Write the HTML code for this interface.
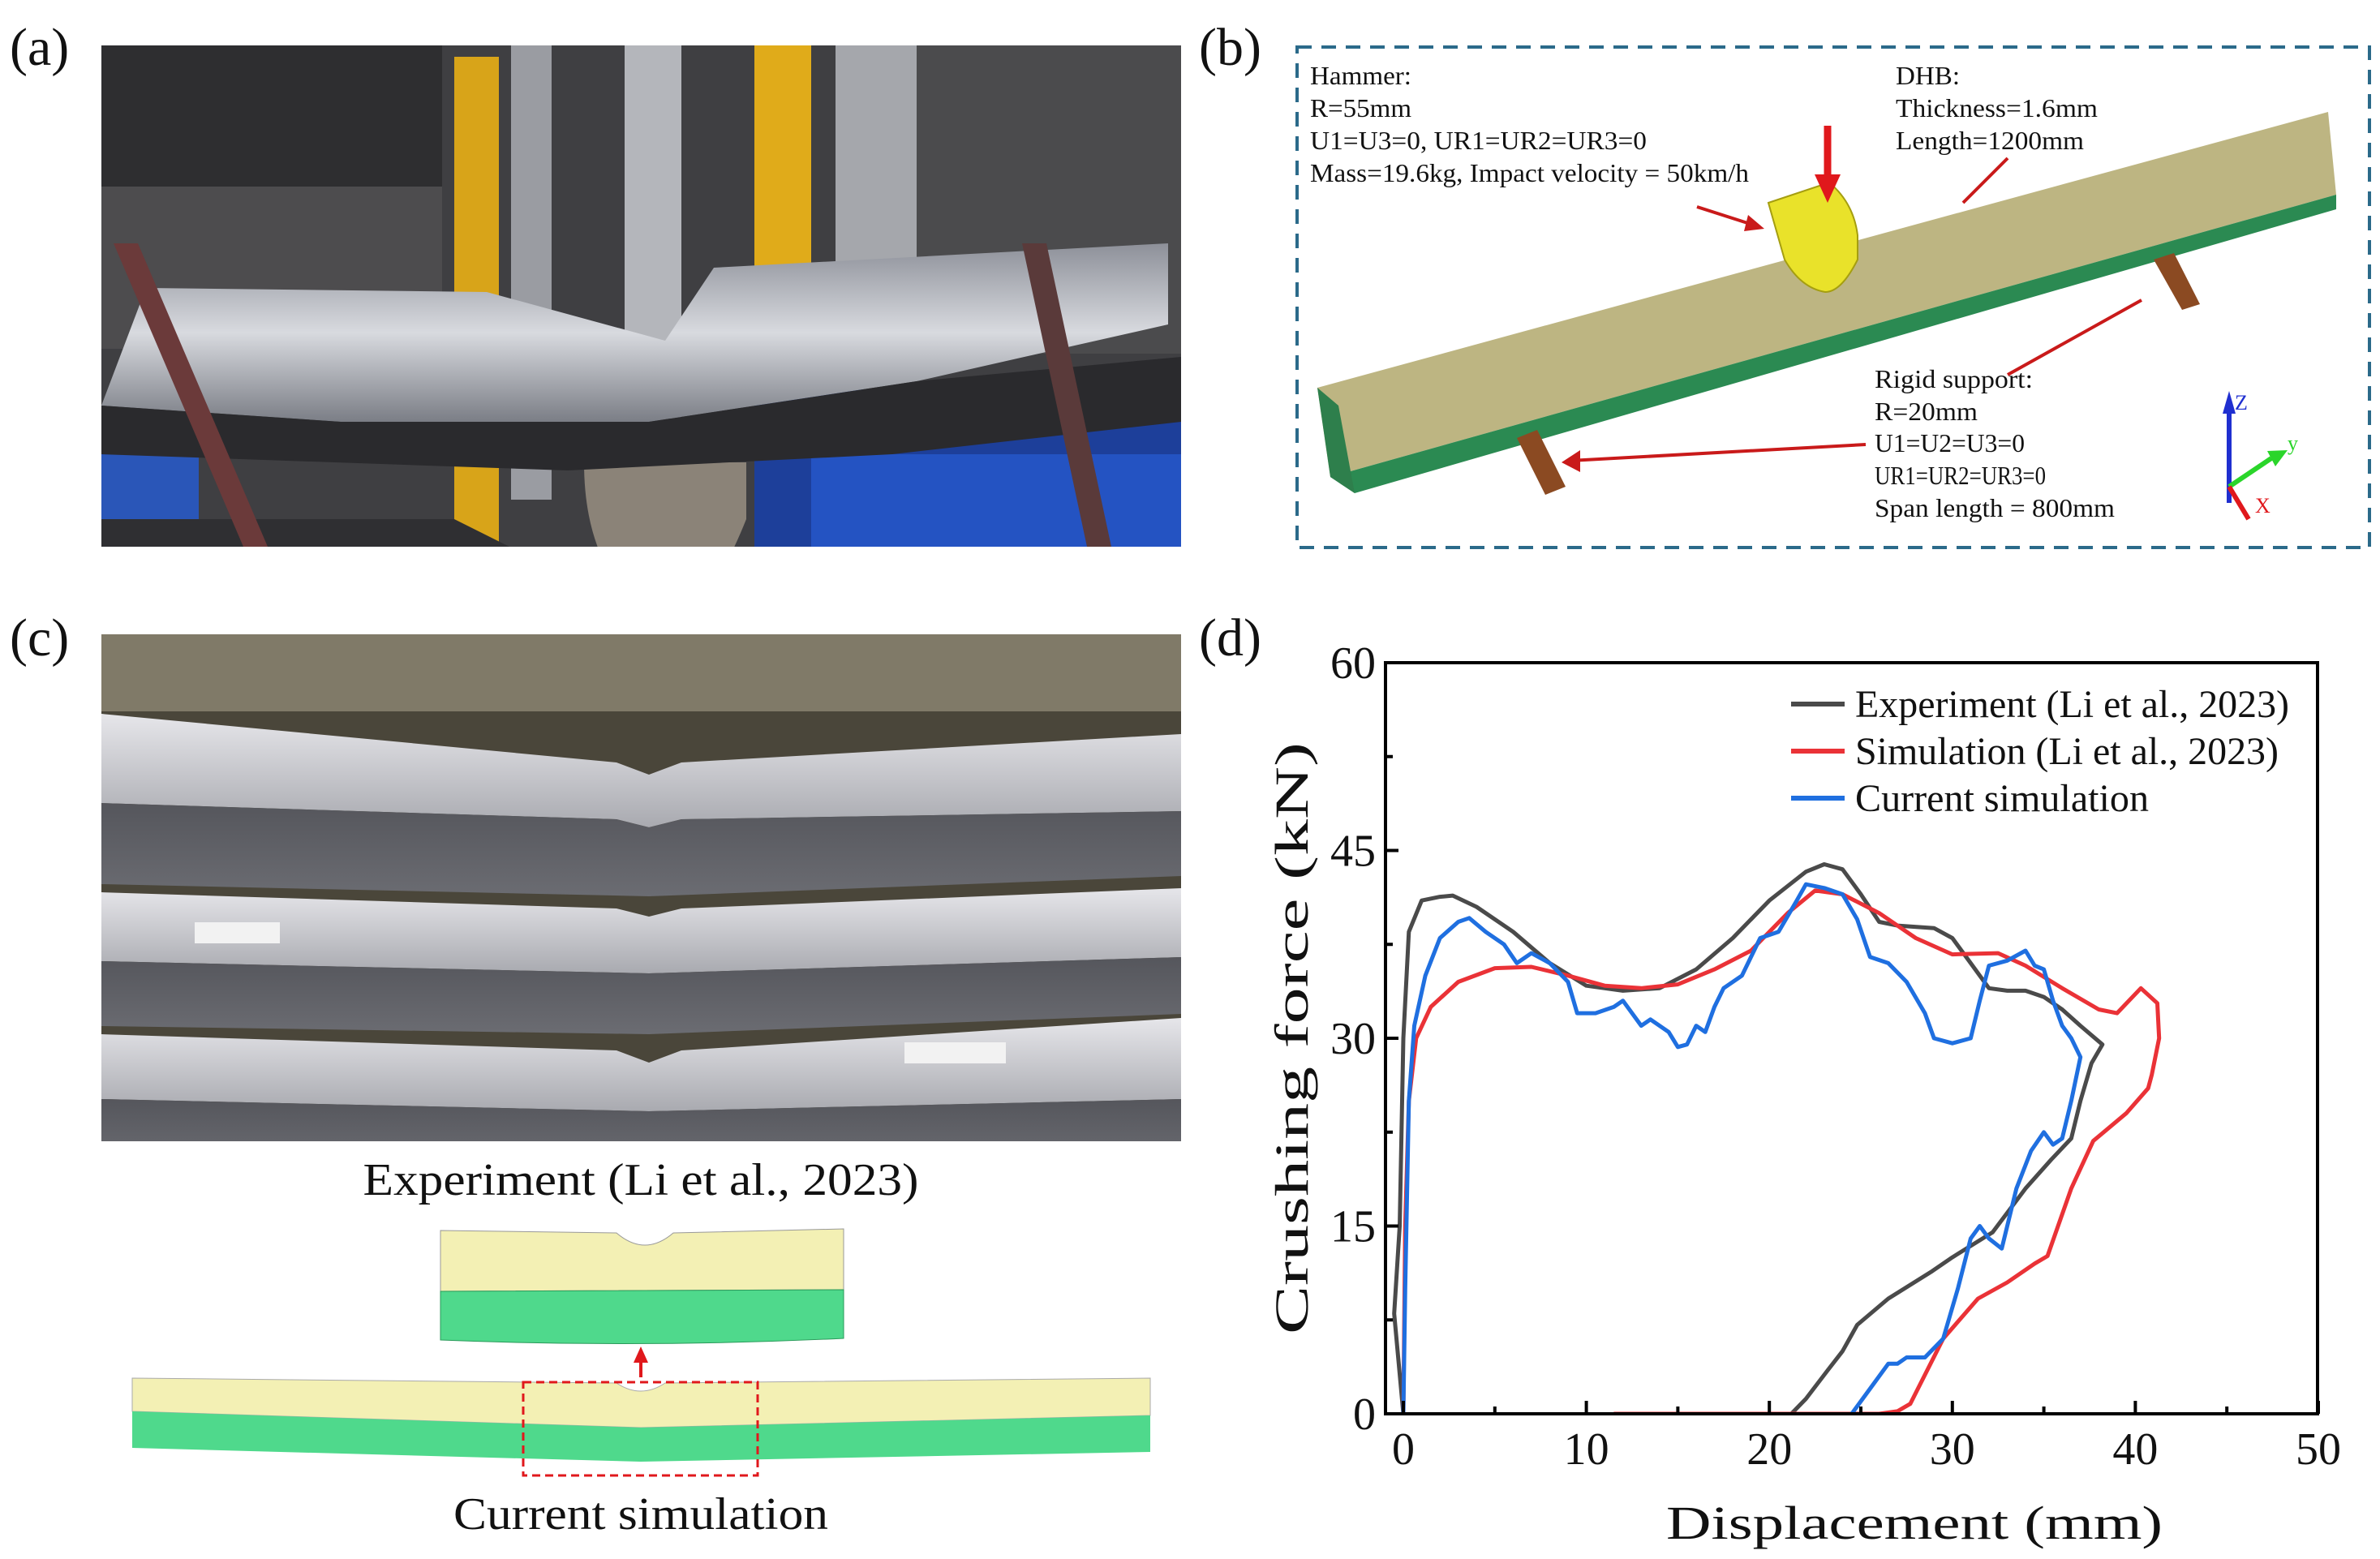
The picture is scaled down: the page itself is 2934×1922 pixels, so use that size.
<!DOCTYPE html>
<html><head><meta charset="utf-8">
<style>
html,body{margin:0;padding:0;background:#fff;}
svg{display:block;}
text{font-family:"Liberation Serif","Times New Roman",Times,serif;fill:#111;}
</style></head>
<body>
<svg id="fig" width="2934" height="1922" viewBox="0 0 2934 1922" xmlns="http://www.w3.org/2000/svg" font-family="Liberation Serif, Times New Roman, serif">
<defs>
<linearGradient id="steel" x1="0" y1="0" x2="0" y2="1"><stop offset="0" stop-color="#8d9099"/><stop offset="0.5" stop-color="#d8dadf"/><stop offset="1" stop-color="#7b7e86"/></linearGradient>
<linearGradient id="silver" x1="0" y1="0" x2="0" y2="1"><stop offset="0" stop-color="#e6e6ea"/><stop offset="1" stop-color="#a9aab0"/></linearGradient>
<linearGradient id="gray" x1="0" y1="0" x2="0" y2="1"><stop offset="0" stop-color="#55565c"/><stop offset="1" stop-color="#6b6c72"/></linearGradient>
<clipPath id="clipA"><rect x="125" y="56" width="1331" height="618"/></clipPath>
<clipPath id="clipC"><rect x="125" y="782" width="1331" height="625"/></clipPath>
<clipPath id="plotClip"><rect x="1708" y="817" width="1149" height="926"/></clipPath>
</defs>

<!-- Panel (a) -->
<text x="12" y="80" font-size="66">(a)</text>
<g clip-path="url(#clipA)">
<rect x="125" y="56" width="1331" height="618" fill="#3f3f42"/>
<rect x="125" y="56" width="420" height="300" fill="#2e2e30"/>
<rect x="125" y="230" width="420" height="200" fill="#4d4c4e"/>
<rect x="1050" y="56" width="406" height="380" fill="#4b4b4d"/>
<rect x="560" y="70" width="55" height="600" fill="#d8a419"/>
<rect x="930" y="56" width="70" height="600" fill="#e0ab1a"/>
<rect x="630" y="56" width="50" height="560" fill="#9a9ca2"/>
<rect x="770" y="56" width="70" height="460" fill="#b4b6bb"/>
<rect x="1030" y="56" width="100" height="280" fill="#a5a7ac"/>
<path d="M720 570 L920 570 L920 640 Q860 790 800 760 Q720 700 720 570Z" fill="#8b8378"/>
<rect x="930" y="480" width="526" height="194" fill="#1d3f9a"/>
<rect x="1000" y="560" width="456" height="114" fill="#2453c2"/>
<rect x="125" y="560" width="120" height="114" fill="#2a56b8"/>
<path d="M125 640 L560 640 L820 770 L1240 720 L1456 690 L1456 900 L125 900Z" fill="#2f2f32"/>
<path d="M180 355 L600 360 L820 420 L880 330 L1440 300 L1440 400 L1130 470 L800 520 L420 520 L125 500Z" fill="url(#steel)"/>
<path d="M125 500 L420 520 L800 520 L1130 470 L1456 440 L1456 520 L1100 560 L700 580 L125 560Z" fill="#2a2a2d"/>
<path d="M140 300 L300 674 L330 674 L170 300Z" fill="#6b3a3a"/>
<path d="M1260 300 L1340 674 L1370 674 L1290 300Z" fill="#5a3a3a"/>
</g>

<!-- Panel (b) -->
<text x="1478" y="80" font-size="66">(b)</text>
<rect x="1599" y="58" width="1322" height="617" fill="none" stroke="#2b6a8a" stroke-width="4" stroke-dasharray="18,12"/>
<g>
<path d="M1624 478 L2870 138 L2880 240 L1640 588Z" fill="#bdb582"/>
<path d="M1640 588 L2880 240 L2880 258 L1670 608Z" fill="#2b8a52"/>
<path d="M1624 478 L1640 588 L1670 608 L1650 500Z" fill="#2e7f4c"/>
<path d="M1870 540 L1895 530 L1930 600 L1905 610Z" fill="#8b4a22"/>
<path d="M2655 320 L2680 312 L2712 375 L2690 382Z" fill="#8b4a22"/>
<path d="M2180 250 L2255 225 Q2285 250 2290 290 L2290 320 Q2270 360 2250 360 Q2220 355 2200 320 Z" fill="#e9e22a" stroke="#a59e10" stroke-width="2"/>
<path d="M2253 155 L2253 230" stroke="#e0181c" stroke-width="9"/>
<path d="M2237 215 L2253 250 L2269 215Z" fill="#e0181c"/>
<path d="M2092 255 L2170 280" stroke="#c91a1a" stroke-width="4"/><path d="M2175 282 L2155 265 L2150 285Z" fill="#c91a1a"/>
<path d="M2475 195 L2420 250" stroke="#c91a1a" stroke-width="4"/>
<path d="M2475 462 L2640 370" stroke="#c91a1a" stroke-width="4"/>
<path d="M2300 548 L1935 568" stroke="#c91a1a" stroke-width="4"/><path d="M1925 570 L1948 555 L1948 582Z" fill="#c91a1a"/>
<path d="M2748 620 L2748 505" stroke="#1f2fd0" stroke-width="6"/><path d="M2740 510 L2748 482 L2756 510Z" fill="#1f2fd0"/>
<path d="M2748 600 L2800 565" stroke="#2ad52a" stroke-width="6"/><path d="M2795 556 L2820 555 L2805 575Z" fill="#2ad52a"/>
<path d="M2748 600 L2772 640" stroke="#e0181c" stroke-width="6"/>
<text x="2755" y="505" font-size="26" style="fill:#1f2fd0">Z</text>
<text x="2820" y="555" font-size="26" style="fill:#2ad52a">y</text>
<text x="2780" y="632" font-size="26" style="fill:#e0181c">X</text>
</g>
<g font-size="32">
<text x="1615" y="104" textLength="125" lengthAdjust="spacingAndGlyphs">Hammer:</text>
<text x="1615" y="144" textLength="125" lengthAdjust="spacingAndGlyphs">R=55mm</text>
<text x="1615" y="184" textLength="415" lengthAdjust="spacingAndGlyphs">U1=U3=0, UR1=UR2=UR3=0</text>
<text x="1615" y="224" textLength="541" lengthAdjust="spacingAndGlyphs">Mass=19.6kg, Impact velocity = 50km/h</text>
</g>
<g font-size="32">
<text x="2337" y="104" textLength="79" lengthAdjust="spacingAndGlyphs">DHB:</text>
<text x="2337" y="144" textLength="249" lengthAdjust="spacingAndGlyphs">Thickness=1.6mm</text>
<text x="2337" y="184" textLength="232" lengthAdjust="spacingAndGlyphs">Length=1200mm</text>
</g>
<g font-size="32">
<text x="2311" y="478" textLength="195" lengthAdjust="spacingAndGlyphs">Rigid support:</text>
<text x="2311" y="518" textLength="127" lengthAdjust="spacingAndGlyphs">R=20mm</text>
<text x="2311" y="557" textLength="185" lengthAdjust="spacingAndGlyphs">U1=U2=U3=0</text>
<text x="2311" y="597" textLength="211" lengthAdjust="spacingAndGlyphs">UR1=UR2=UR3=0</text>
<text x="2311" y="637" textLength="296" lengthAdjust="spacingAndGlyphs">Span length = 800mm</text>
</g>

<!-- Panel (c) -->
<text x="12" y="808" font-size="66">(c)</text>
<g clip-path="url(#clipC)">
<rect x="125" y="782" width="1331" height="625" fill="#4a463a"/>
<rect x="125" y="782" width="1331" height="95" fill="#807a68"/>
<path d="M125 880 L760 940 L800 955 L840 940 L1456 905 L1456 1000 L840 1010 L800 1020 L760 1010 L125 990Z" fill="url(#silver)"/>
<path d="M125 990 L760 1010 L800 1020 L840 1010 L1456 1000 L1456 1080 L800 1105 L125 1090Z" fill="url(#gray)"/>
<path d="M125 1100 L760 1120 L800 1130 L840 1120 L1456 1095 L1456 1180 L800 1200 L125 1185Z" fill="url(#silver)"/>
<path d="M125 1185 L800 1200 L1456 1180 L1456 1250 L800 1275 L125 1265Z" fill="url(#gray)"/>
<path d="M125 1275 L760 1295 L800 1310 L840 1295 L1456 1255 L1456 1355 L800 1370 L125 1355Z" fill="url(#silver)"/>
<path d="M125 1355 L800 1370 L1456 1355 L1456 1415 L800 1435 L125 1415Z" fill="url(#gray)"/>
<rect x="240" y="1137" width="105" height="26" fill="#f2f2f2"/>
<rect x="1115" y="1285" width="125" height="26" fill="#f2f2f2"/>
</g>
<text x="790" y="1473" font-size="56" text-anchor="middle" textLength="685" lengthAdjust="spacingAndGlyphs">Experiment (Li et al., 2023)</text>
<g>
<path d="M543 1517 L760 1520 Q795 1550 830 1520 L1040 1515 L1040 1590 L543 1592Z" fill="#f3f0b4" stroke="#999" stroke-width="1"/>
<path d="M543 1592 L1040 1590 L1040 1650 Q790 1662 543 1652Z" fill="#4fd98c" stroke="#2a9a5a" stroke-width="1"/>
</g>
<path d="M790 1698 L790 1675" stroke="#e0181c" stroke-width="4"/><path d="M781 1680 L790 1660 L799 1680Z" fill="#e0181c"/>
<g>
<path d="M163 1699 L760 1705 Q790 1725 820 1705 L1418 1699 L1418 1745 L790 1760 L163 1740Z" fill="#f3f0b4" stroke="#aaa" stroke-width="1"/>
<path d="M163 1740 L790 1760 L1418 1745 L1418 1790 L790 1802 L163 1785Z" fill="#4fd98c"/>
</g>
<rect x="645" y="1704" width="289" height="115" fill="none" stroke="#e0181c" stroke-width="3" stroke-dasharray="10,6"/>
<text x="790" y="1885" font-size="56" text-anchor="middle" textLength="462" lengthAdjust="spacingAndGlyphs">Current simulation</text>

<!-- Panel (d) -->
<text x="1478" y="808" font-size="66">(d)</text>
<g id="chart"></g>
</svg>
<script>
const xTicks = [0, 10, 20, 30, 40, 50];
const yTicks = [0, 15, 30, 45, 60];
const seriesNames = ["Experiment (Li et al., 2023)", "Simulation (Li et al., 2023)", "Current simulation"];
const expX = [0,-0.5,-0.2,0,0.3,1,2,2.7,4,6,8,10,12,14,16,18,20,22,23,24,25,26,27,29,30,31,32,33,34,35,36,37,38.2,37.6,37,36.5,35.4,34,32.2,30,28.9,26.5,24.8,24,23.2,22,21.2];
const expY = [0,8,15,30,38.5,41,41.3,41.4,40.5,38.5,36,34.2,33.8,34,35.5,38,41,43.3,43.9,43.5,41.5,39.3,39,38.8,38,36,34,33.8,33.8,33.3,32.3,31,29.5,28,25,22,20.3,18,14.5,12.5,11.4,9.2,7.1,5,3.5,1.2,0];
const simX = [0,0.1,0.3,0.7,1.5,3,5,7,9,11,13,15,17,19,21,22.5,24,26,28,30,32.5,34,36,38,39,40.3,41.2,41.3,40.9,40.7,39.5,37.7,36.5,35.2,34.5,33,31.4,29.5,27.7,27,26,11.5];
const simY = [0,15,25,30,32.5,34.5,35.6,35.7,35,34.2,34,34.3,35.5,37,40,41.8,41.5,40,38,36.7,36.8,35.8,34,32.3,32,34,32.8,30,27.1,26,24,21.8,18,12.6,12,10.5,9.2,6,0.8,0.2,0,0];
const curX = [0,0.1,0.3,0.6,1.2,2,3,3.6,4.5,5.5,6.2,7,8,9,9.5,10.5,11.5,12,13,13.5,14.5,15,15.5,16,16.5,17,17.5,18.5,19.5,20.5,21.5,22,23,24,24.8,25.5,26.5,27.5,28.5,29,30,31,31.5,32,33,34,34.5,35,35.5,36,36.5,37,36.5,36,35.5,35,34.3,33.5,32.7,32,31.5,31,30.3,29.5,28.5,27.5,27,26.5,25.5,24.5];
const curY = [0,10,25,31,35,38,39.3,39.6,38.5,37.5,36,36.8,36,34.5,32,32,32.5,33,31,31.5,30.5,29.3,29.5,31,30.5,32.5,34,35,38,38.5,41,42.3,42,41.5,39.5,36.5,36,34.5,32,30,29.6,30,33,35.8,36.2,37,35.8,35.5,33,31,30,28.5,25,22,21.5,22.5,21,18,13.2,14,15,14,10,6,4.5,4.5,4,4,2,0];

const NS = "http://www.w3.org/2000/svg";
const L = 1708, R = 2857, T = 817, B = 1743;
const yMin = 0, yMax = 60;
function sx(v){ return 1730 + v * (2858 - 1730) / 50; }
function sy(v){ return B - (v - yMin) * (B - T) / (yMax - yMin); }
const chart = document.getElementById('chart');
function mk(tag, attrs, parent){ const e = document.createElementNS(NS, tag); for (const k in attrs) e.setAttribute(k, attrs[k]); (parent||chart).appendChild(e); return e; }

const series = [[expX, expY, '#4a4a4a'], [simX, simY, '#ea3237'], [curX, curY, '#1f6fe0']];
const seriesKeys = ['experiment-line', 'simulation-line', 'current-simulation-line'];
series.forEach((s, i) => {
  let d = '';
  s[0].forEach((x, j) => { d += (j ? 'L' : 'M') + sx(x).toFixed(1) + ' ' + sy(s[1][j]).toFixed(1); });
  const p = mk('path', {d: d, fill: 'none', stroke: s[2], 'stroke-width': 5, 'stroke-linejoin': 'round', 'clip-path': 'url(#plotClip)'});
  
  
});

const frame = mk('rect', {x: L, y: T, width: R - L, height: B - T, fill: 'none', stroke: '#000', 'stroke-width': 4});



for (let v = 0; v <= 50; v += 5) {
  const major = v % 10 === 0;
  const t = mk('line', {x1: sx(v), x2: sx(v), y1: B, y2: B - (major ? 16 : 9), stroke: '#000', 'stroke-width': 4});
  
  
}
xTicks.forEach(v => {
  const t = mk('text', {x: sx(v), y: B + 62, 'font-size': 56, 'text-anchor': 'middle'});
  t.textContent = v;
  
  
});
for (let v = 0; v <= 60; v += 7.5) {
  const major = v % 15 === 0;
  const t = mk('line', {x1: L, x2: L + (major ? 16 : 9), y1: sy(v), y2: sy(v), stroke: '#000', 'stroke-width': 4});
  
  
}
yTicks.forEach(v => {
  const t = mk('text', {x: L - 12, y: sy(v) + 19, 'font-size': 56, 'text-anchor': 'end'});
  t.textContent = v;
  
  
});
const xt = mk('text', {x: 2360, y: 1897, 'font-size': 58, 'text-anchor': 'middle', textLength: 612, lengthAdjust: 'spacingAndGlyphs'});
xt.textContent = 'Displacement (mm)';


const yt = mk('text', {x: 0, y: 0, 'font-size': 58, 'text-anchor': 'middle', textLength: 730, lengthAdjust: 'spacingAndGlyphs', transform: 'translate(1612,1280) rotate(-90)'});
yt.textContent = 'Crushing force (kN)';



const legendY = [868, 926, 984];
const legendW = [535, 522, 362];
seriesNames.forEach((n, i) => {
  const g = mk('g', {});
  
  
  mk('line', {x1: 2208, x2: 2274, y1: legendY[i], y2: legendY[i], stroke: series[i][2], 'stroke-width': 6}, g);
  const t = mk('text', {x: 2287, y: legendY[i] + 16, 'font-size': 48, textLength: legendW[i], lengthAdjust: 'spacingAndGlyphs'}, g);
  t.textContent = n;
});
</script>
</body></html>
